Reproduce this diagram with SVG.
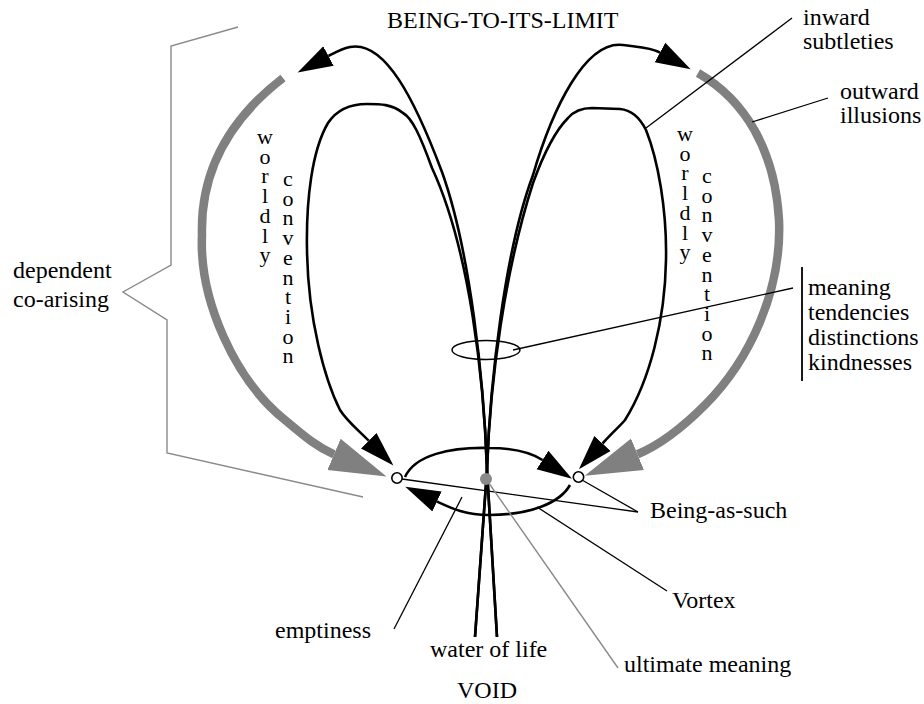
<svg xmlns="http://www.w3.org/2000/svg" width="924" height="704" viewBox="0 0 924 704">
<style>
text{font-family:"Liberation Serif","Times New Roman",serif;font-size:24px;fill:#000}
.v{font-size:22px;writing-mode:vertical-rl;text-orientation:upright;letter-spacing:-5.3px}
.loop{fill:none;stroke:#000;stroke-width:2.6}
.band{fill:none;stroke:#808080;stroke-width:8.5}
.lead{fill:none;stroke:#000;stroke-width:1.3}
.glead{fill:none;stroke:#8a8a8a;stroke-width:1.4}
</style>
<defs>
<marker id="ab" viewBox="0 -12 38 24" markerWidth="38" markerHeight="24" refX="0" refY="0" orient="auto" markerUnits="userSpaceOnUse"><path d="M0,-11 L35,0 L0,11 z" fill="#000"/></marker>
<marker id="ag" viewBox="0 -18 60 36" markerWidth="60" markerHeight="36" refX="0" refY="0" orient="auto" markerUnits="userSpaceOnUse"><path d="M0,-17 L57,0 L0,17 z" fill="#808080"/></marker>
</defs>
<rect width="924" height="704" fill="#fff"/>

<g id="connectors">
<path class="band" d="M283,78 C235,115 200,165 202,235 C199,300 235,380 285,420 C303,435 316,446.7 334,454.3" marker-end="url(#ag)"/>
<path class="band" d="M698,73 C745,100 775,150 779,220 C782,290 750,360 705,405 C685,425 660,445 637.5,454.2" marker-end="url(#ag)"/>
<path class="loop" d="M497,637 L487,470 C484,380 470,250 442,172 C415,100 385,40 350,47 C342,48.6 336,52 328.5,56" marker-end="url(#ab)"/>
<path class="loop" d="M475,637 L487,470 C490,380 505,250 533,175 C552,110 585,40 623,45 C637,47 650,47 660,52.5" marker-end="url(#ab)"/>
<path class="loop" d="M497,637 L487,470 C484,380 470,250 432,168 C420,135 412,118 403,113 C392,104 380,104 367,104 C352,104 338,108 328,123 C312,150 306,200 307,250 C308,320 325,380 340,410 C347,421 357,429 368.7,440.7" marker-end="url(#ab)"/>
<path class="loop" d="M475,637 L487,470 C490,380 505,270 533,183 C545,150 556,130 568,118 C574,111 582,108 592,108 L620,109 C632,110 640,118 646,130 C658,160 667,210 666,260 C665,320 650,380 625,420 C620,426 613,432 602.5,443.5" marker-end="url(#ab)"/>
<path class="loop" stroke-width="3" d="M405,477 C415,455 450,447 489,448 C515,448 530,452 542.5,460" marker-end="url(#ab)"/>
<path class="loop" stroke-width="3" d="M570,485 C560,503 530,515 489,515 C465,515 451,508 437,501.5" marker-end="url(#ab)"/>
<ellipse cx="486" cy="350" rx="34" ry="9.5" fill="none" stroke="#000" stroke-width="1.5"/>
<line class="lead" x1="513" y1="350" x2="793" y2="288"/>
<line class="lead" x1="646" y1="128" x2="792" y2="18"/>
<line class="lead" x1="752" y1="122" x2="828" y2="98"/>
<line class="lead" x1="402" y1="479" x2="638" y2="512"/>
<line class="lead" x1="582" y1="480" x2="638" y2="512"/>
<line class="lead" x1="537" y1="507" x2="667" y2="591"/>
<line class="lead" x1="462" y1="497" x2="394" y2="629"/>
<line class="glead" x1="486" y1="479" x2="618" y2="668"/>
<line x1="802" y1="267" x2="802" y2="381" stroke="#000" stroke-width="1.8"/>
<polyline class="glead" points="238,27 171,46 171,265 123,292 167,320 167,453 363,497"/>
</g>

<g id="being-as-such-left"><circle cx="397" cy="478" r="5.2" fill="#fff" stroke="#000" stroke-width="1.6"/></g>
<g id="being-as-such-right"><circle cx="578.5" cy="477" r="5.2" fill="#fff" stroke="#000" stroke-width="1.6"/></g>
<g id="ultimate-dot"><circle cx="486" cy="479" r="6" fill="#8a8a8a"/></g>

<g id="labels">
<text x="387" y="28">BEING-TO-ITS-LIMIT</text>
<text x="803" y="25">inward</text>
<text x="803" y="49">subtleties</text>
<text x="840" y="99">outward</text>
<text x="840" y="123">illusions</text>
<text x="13" y="278">dependent</text>
<text x="13" y="307">co-arising</text>
<text x="808" y="295">meaning</text>
<text x="808" y="320">tendencies</text>
<text x="808" y="345">distinctions</text>
<text x="808" y="370">kindnesses</text>
<text x="650" y="518">Being-as-such</text>
<text x="672" y="608">Vortex</text>
<text x="275" y="638">emptiness</text>
<text x="430" y="657">water of life</text>
<text x="624" y="672">ultimate meaning</text>
<text x="457" y="698">VOID</text>
<text class="v" x="265" y="124">worldly</text>
<text class="v" x="288" y="166">convention</text>
<text class="v" x="685" y="121">worldly</text>
<text class="v" x="707" y="163">convention</text>
</g>
</svg>
